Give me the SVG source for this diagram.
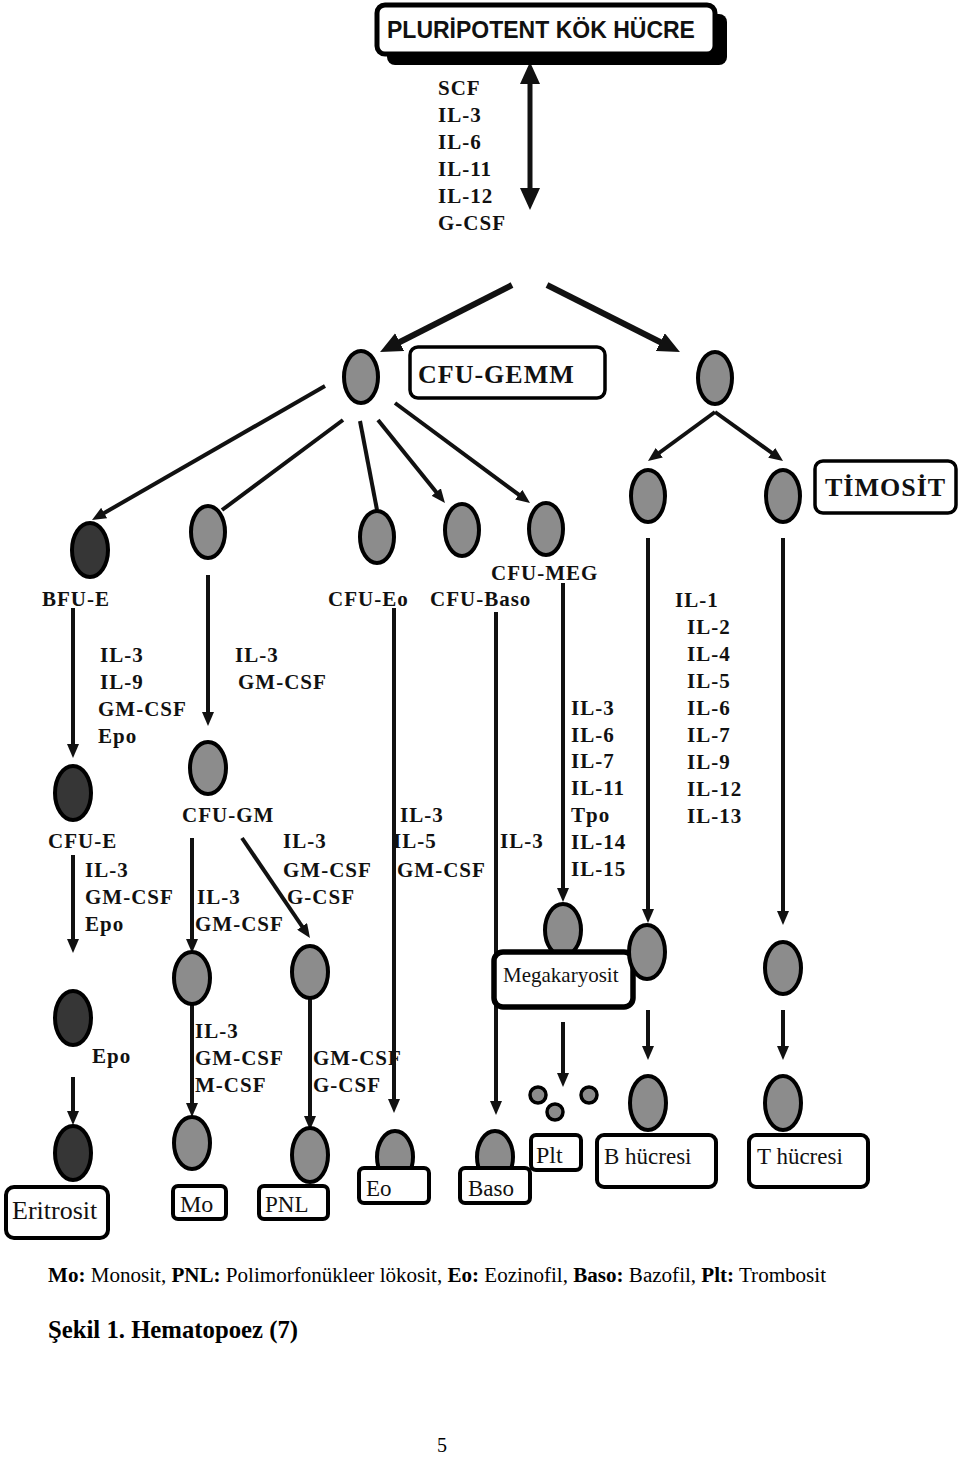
<svg xmlns="http://www.w3.org/2000/svg" width="960" height="1462" viewBox="0 0 960 1462">
<style>
.cell{stroke:#000;stroke-width:4}
.g{fill:#8c8c8c}
.d{fill:#363636}
.box{fill:#fff;stroke:#000;stroke-width:4}
.lbl{font-family:"Liberation Serif","Times New Roman",serif;font-weight:bold;font-size:21px;letter-spacing:1px;fill:#111}
.ttl{font-family:"Liberation Serif","Times New Roman",serif;font-weight:bold;font-size:26px;letter-spacing:1px;fill:#111}
.name{font-family:"Liberation Serif","Times New Roman",serif;font-size:23px;fill:#111}
.ln{stroke:#111;stroke-width:4;fill:none}
.arr{marker-end:url(#ah)}
.thk{stroke-width:6;marker-end:url(#ahb)}
.cap{font-family:"Liberation Serif","Times New Roman",serif;fill:#000}
</style>
<defs>
<marker id="ah" markerUnits="userSpaceOnUse" markerWidth="14" markerHeight="12" refX="8" refY="6" orient="auto"><path d="M0,0 L14,6 L0,12 z" fill="#111"/></marker>
<marker id="ahb" markerUnits="userSpaceOnUse" markerWidth="22" markerHeight="20" refX="12" refY="10" orient="auto-start-reverse"><path d="M0,0 L22,10 L0,20 z" fill="#111"/></marker>
</defs>
<rect width="960" height="1462" fill="#fff"/>

<g id="connectors">
<line class="ln" x1="530" y1="72" x2="530" y2="200" style="stroke-width:5;marker-start:url(#ahb);marker-end:url(#ahb)"/>
<line class="ln thk" x1="512" y1="285" x2="389" y2="347.5"/>
<line class="ln thk" x1="547" y1="285" x2="671" y2="347.5"/>
<line class="ln arr" x1="325" y1="386" x2="97.2" y2="517"/>
<line class="ln" x1="343" y1="420" x2="222" y2="510"/>
<line class="ln" x1="360" y1="421" x2="377" y2="510"/>
<line class="ln arr" x1="378" y1="420" x2="441.2" y2="498.3"/>
<line class="ln arr" x1="395" y1="403" x2="525.2" y2="499.4"/>
<line class="ln arr" x1="715" y1="412" x2="652.8" y2="457.5"/>
<line class="ln arr" x1="715" y1="412" x2="778.2" y2="457.5"/>
<line class="ln arr" x1="73" y1="608" x2="73" y2="752"/>
<line class="ln arr" x1="208" y1="575" x2="208" y2="720"/>
<line class="ln arr" x1="394" y1="608" x2="394" y2="1107"/>
<line class="ln arr" x1="496" y1="612" x2="496" y2="1109"/>
<line class="ln arr" x1="563" y1="583" x2="563" y2="896"/>
<line class="ln arr" x1="648" y1="538" x2="648" y2="917"/>
<line class="ln arr" x1="783" y1="538" x2="783" y2="919"/>
<line class="ln arr" x1="73" y1="855" x2="73" y2="947"/>
<line class="ln arr" x1="73" y1="1077" x2="73" y2="1119"/>
<line class="ln arr" x1="192" y1="838" x2="192" y2="947"/>
<line class="ln arr" x1="192" y1="1003" x2="192" y2="1111"/>
<line class="ln arr" x1="242" y1="838" x2="306.6" y2="933"/>
<line class="ln arr" x1="310" y1="998" x2="310" y2="1124"/>
<line class="ln arr" x1="563" y1="1022" x2="563" y2="1081"/>
<line class="ln arr" x1="648" y1="1010" x2="648" y2="1054"/>
<line class="ln arr" x1="783" y1="1010" x2="783" y2="1054"/>
</g>

<g id="node-pluripotent">
<rect x="387" y="14" width="340" height="51" rx="8" fill="#000"/>
<rect x="377" y="5" width="338" height="49" rx="8" class="box" style="stroke-width:5"/>
<text x="387" y="38" style="font-family:'Liberation Sans',Arial,sans-serif;font-weight:bold;font-size:23px;fill:#111">PLURİPOTENT KÖK HÜCRE</text>
</g>

<g id="node-cfu-gemm">
<ellipse class="cell g" cx="361" cy="377" rx="17" ry="26"/>
<rect class="box" x="410" y="347" width="195" height="51" rx="8" style="stroke-width:3.5"/>
<text class="ttl" x="418" y="383">CFU-GEMM</text>
</g>
<g id="node-lymphoid"><ellipse class="cell g" cx="715" cy="378" rx="17" ry="26"/></g>

<g id="node-bfu-e"><ellipse class="cell d" cx="90" cy="550" rx="18" ry="27"/><text class="lbl" x="42" y="606">BFU-E</text></g>
<g id="node-cfu-gm-pre"><ellipse class="cell g" cx="208" cy="532" rx="17" ry="26"/></g>
<g id="node-cfu-eo"><ellipse class="cell g" cx="377" cy="537" rx="17" ry="26"/><text class="lbl" x="328" y="606">CFU-Eo</text></g>
<g id="node-cfu-baso"><ellipse class="cell g" cx="462" cy="530" rx="17" ry="26"/><text class="lbl" x="430" y="606">CFU-Baso</text></g>
<g id="node-cfu-meg"><ellipse class="cell g" cx="546" cy="529" rx="17" ry="26"/><text class="lbl" x="491" y="580">CFU-MEG</text></g>
<g id="node-b-pre"><ellipse class="cell g" cx="648" cy="496" rx="17" ry="26"/></g>
<g id="node-t-pre"><ellipse class="cell g" cx="783" cy="496" rx="17" ry="26"/></g>
<g id="node-timosit">
<rect class="box" x="815" y="461" width="141" height="52" rx="8" style="stroke-width:3.5"/>
<text class="ttl" x="825" y="496">TİMOSİT</text>
</g>

<g id="node-cfu-e"><ellipse class="cell d" cx="73" cy="793" rx="18" ry="27"/><text class="lbl" x="48" y="848">CFU-E</text></g>
<g id="node-cfu-gm"><ellipse class="cell g" cx="208" cy="768" rx="18" ry="26"/><text class="lbl" x="182" y="822">CFU-GM</text></g>

<g id="node-megakaryosit">
<ellipse class="cell g" cx="563" cy="930" rx="18" ry="26"/>
<rect class="box" x="494" y="952" width="139" height="55" rx="9" style="stroke-width:5.5"/>
<text class="name" x="503" y="982" style="font-size:21px">Megakaryosit</text>
</g>
<g id="node-b-mid"><ellipse class="cell g" cx="647" cy="952" rx="18" ry="27"/></g>
<g id="node-t-mid"><ellipse class="cell g" cx="783" cy="968" rx="18" ry="26"/></g>

<g id="node-eritro-mid"><ellipse class="cell d" cx="73" cy="1018" rx="18" ry="27"/></g>
<g id="node-mo-mid"><ellipse class="cell g" cx="192" cy="978" rx="18" ry="26"/></g>
<g id="node-pnl-mid"><ellipse class="cell g" cx="310" cy="972" rx="18" ry="26"/></g>

<g id="node-eritrosit">
<ellipse class="cell d" cx="73" cy="1153" rx="18" ry="27"/>
<rect class="box" x="6" y="1187" width="102" height="51" rx="8"/>
<text class="name" x="12" y="1219" style="font-size:26px">Eritrosit</text>
</g>
<g id="node-mo">
<ellipse class="cell g" cx="192" cy="1143" rx="18" ry="26"/>
<rect class="box" x="173" y="1186" width="53" height="33" rx="5"/>
<text class="name" x="180" y="1212" style="font-size:24px">Mo</text>
</g>
<g id="node-pnl">
<ellipse class="cell g" cx="310" cy="1155" rx="18" ry="27"/>
<rect class="box" x="259" y="1186" width="69" height="33" rx="5"/>
<text class="name" x="265" y="1212">PNL</text>
</g>
<g id="node-eo">
<ellipse class="cell g" cx="395" cy="1157" rx="18" ry="26"/>
<rect class="box" x="359" y="1168" width="70" height="35" rx="5"/>
<text class="name" x="366" y="1196">Eo</text>
</g>
<g id="node-baso">
<ellipse class="cell g" cx="495" cy="1157" rx="18" ry="26"/>
<rect class="box" x="460" y="1168" width="70" height="35" rx="5"/>
<text class="name" x="468" y="1196">Baso</text>
</g>
<g id="node-plt">
<circle class="cell g" cx="538" cy="1095" r="8" style="stroke-width:3.5"/>
<circle class="cell g" cx="555" cy="1112" r="8" style="stroke-width:3.5"/>
<circle class="cell g" cx="589" cy="1095" r="8" style="stroke-width:3.5"/>
<rect class="box" x="531" y="1135" width="50" height="35" rx="5"/>
<text class="name" x="536" y="1163" style="font-size:24px">Plt</text>
</g>
<g id="node-b-cell">
<ellipse class="cell g" cx="648" cy="1103" rx="18" ry="27"/>
<rect class="box" x="597" y="1135" width="119" height="52" rx="7"/>
<text class="name" x="604" y="1164">B hücresi</text>
</g>
<g id="node-t-cell">
<ellipse class="cell g" cx="783" cy="1103" rx="18" ry="27"/>
<rect class="box" x="749" y="1135" width="119" height="52" rx="7"/>
<text class="name" x="757" y="1164">T hücresi</text>
</g>

<g id="labels" class="lbl">
<text x="438" y="95">SCF</text>
<text x="438" y="122">IL-3</text>
<text x="438" y="149">IL-6</text>
<text x="438" y="176">IL-11</text>
<text x="438" y="203">IL-12</text>
<text x="438" y="230">G-CSF</text>
<text x="100" y="662">IL-3</text>
<text x="100" y="689">IL-9</text>
<text x="98" y="716">GM-CSF</text>
<text x="98" y="743">Epo</text>
<text x="235" y="662">IL-3</text>
<text x="238" y="689">GM-CSF</text>
<text x="85" y="877">IL-3</text>
<text x="85" y="904">GM-CSF</text>
<text x="85" y="931">Epo</text>
<text x="197" y="904">IL-3</text>
<text x="195" y="931">GM-CSF</text>
<text x="283" y="848">IL-3</text>
<text x="283" y="877">GM-CSF</text>
<text x="287" y="904">G-CSF</text>
<text x="400" y="822">IL-3</text>
<text x="393" y="848">IL-5</text>
<text x="397" y="877">GM-CSF</text>
<text x="500" y="848">IL-3</text>
<text x="571" y="715">IL-3</text>
<text x="571" y="742">IL-6</text>
<text x="571" y="768">IL-7</text>
<text x="571" y="795">IL-11</text>
<text x="571" y="822">Tpo</text>
<text x="571" y="849">IL-14</text>
<text x="571" y="876">IL-15</text>
<text x="675" y="607">IL-1</text>
<text x="687" y="634">IL-2</text>
<text x="687" y="661">IL-4</text>
<text x="687" y="688">IL-5</text>
<text x="687" y="715">IL-6</text>
<text x="687" y="742">IL-7</text>
<text x="687" y="769">IL-9</text>
<text x="687" y="796">IL-12</text>
<text x="687" y="823">IL-13</text>
<text x="92" y="1063">Epo</text>
<text x="195" y="1038">IL-3</text>
<text x="195" y="1065">GM-CSF</text>
<text x="195" y="1092">M-CSF</text>
<text x="313" y="1065">GM-CSF</text>
<text x="313" y="1092">G-CSF</text>
</g>

<g id="caption" class="cap">
<text x="48" y="1282" font-size="20" textLength="778" lengthAdjust="spacingAndGlyphs"><tspan font-weight="bold">Mo:</tspan> Monosit,  <tspan font-weight="bold">PNL:</tspan> Polimorfonükleer lökosit, <tspan font-weight="bold">Eo:</tspan> Eozinofil,  <tspan font-weight="bold">Baso:</tspan> Bazofil, <tspan font-weight="bold">Plt:</tspan> Trombosit</text>
<text x="48" y="1338" font-size="26" font-weight="bold" textLength="250" lengthAdjust="spacingAndGlyphs">Şekil 1. Hematopoez (7)</text>
<text x="437" y="1452" font-size="20">5</text>
</g>
</svg>
